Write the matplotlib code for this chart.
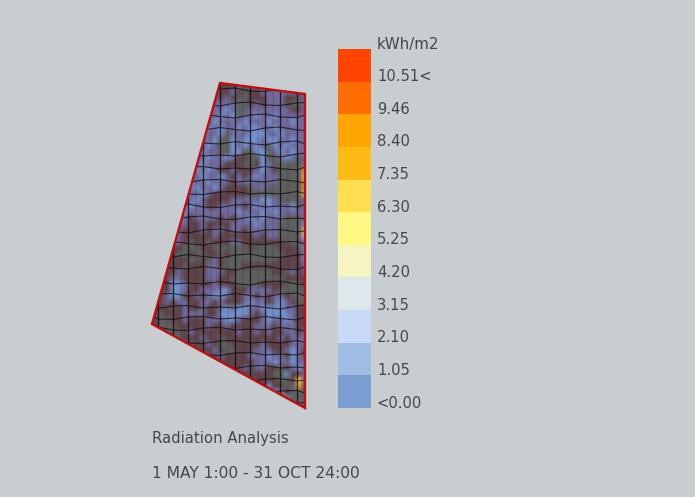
import numpy as np
import matplotlib
matplotlib.use("Agg")
import matplotlib.pyplot as plt
from matplotlib.colors import ListedColormap, BoundaryNorm
from matplotlib.patches import Polygon

# radiation map, one string per row, 6px cells
# 0 shade grey, 1 brown, 2 purple, 3 blue, 4 yellow, 5 orange, 6 pale
radiation_rows = [
    "22222222222111212222222222",
    "22222222222112101122222212",
    "22222222222121001112221102",
    "22222222222222001212221002",
    "22222222222232002222222112",
    "22222222222323022322322222",
    "22222222223222232223222322",
    "22222222232322323322322222",
    "22222222322302223332232222",
    "22222222223003233323322322",
    "22222222232003232320323222",
    "22222222322003300330232322",
    "22222222232232110030023202",
    "22222222322211100132000002",
    "22222223232112111232100005",
    "22222222322321212322200004",
    "22222232232221222222200005",
    "22222223223211110220000005",
    "22222322321111110000000004",
    "22222223211112222233200002",
    "22223232211222212323222302",
    "22232322222222322232322222",
    "22223212222121223232220002",
    "22232211211112222322200003",
    "22322111212212212222200004",
    "22222111112111111212200006",
    "22322101101112211111110002",
    "22211000110000001000011103",
    "22110010011010000000001113",
    "11111100102100000000011113",
    "11111011122100011111111112",
    "11112111122211000000110212",
    "11122111122110000000001111",
    "11133211112111000011110001",
    "11133211222331112222100000",
    "11233112123321122121221000",
    "11212211221211123221232100",
    "11111211211232332233332211",
    "10111222211333332123333211",
    "10011211122233211123223211",
    "10001111121121111222122211",
    "00000121111111211212112212",
    "00000111211011111111121222",
    "00000001121001111121111222",
    "00000000112100111222112321",
    "00000000001211112223221321",
    "00000000000111111222322322",
    "00000000000001121221101232",
    "00000000000000111111003112",
    "00000000000000011111100142",
    "00000000000000000113110051",
    "00000000000000000011321000",
    "00000000000000000000153000",
    "00000000000000000000000000",
    "00000000000000000000000000",
]

map_colors = ["#5e605f", "#5f4349", "#6f6a9b", "#7390cb", "#f2c94a", "#f39a2a", "#c9d3e8"]

outline_x = [220, 305, 305, 152]
outline_y = [83, 94, 408, 324]

# mesh lines
mesh_columns = [158, 173, 188, 203, 220, 235, 250, 265, 280, 297]
mesh_rows = [90, 104, 116, 129, 143, 155, 168, 181, 193, 206, 218, 231, 243, 256, 268, 283,
             295, 307, 318, 329, 342, 354, 367, 380, 392, 404]
wave_x = [152, 158, 173, 188, 203, 220, 235, 250, 265, 280, 297, 305]
wave_offset = [0, 1, -1.5, 0.5, 2, -1, -2, 1, 1.5, -1, -1.5, 1]

legend_labels = ["<0.00", "1.05", "2.10", "3.15", "4.20", "5.25", "6.30", "7.35", "8.40", "9.46", "10.51<"]
legend_colors = ["#7a9dd2", "#a0bde3", "#c8daf8", "#dde8ec", "#f4f5c0", "#fff882",
                 "#ffdf50", "#fdbb14", "#ffa500", "#ff6d00", "#ff4400"]

text_color = "#45484b"
bg = "#c8cdd0"

fig = plt.figure(figsize=(6.95, 4.97), dpi=100, facecolor=bg)
ax = fig.add_axes([0, 0, 1, 1])

grid = np.array([[int(c) for c in row] for row in radiation_rows])
cmap = ListedColormap(map_colors)
norm = BoundaryNorm(np.arange(len(map_colors) + 1) - 0.5, cmap.N)
img = ax.imshow(grid, cmap=cmap, norm=norm, extent=[152, 308, 413, 83], aspect="auto",
                interpolation="bilinear", interpolation_stage="rgba", zorder=1)
ax.set_xlim(0, 695)
ax.set_ylim(497, 0)
ax.axis("off")
clip = Polygon(np.column_stack([outline_x, outline_y]), closed=True, transform=ax.transData)
img.set_clip_path(clip)

# faint stripes between the mesh columns
for x in mesh_columns:
    line, = ax.plot([x + 7.5, x + 7.5], [80, 410], color="#222222", lw=1.5, alpha=0.12, zorder=2)
    line.set_clip_path(clip)
for x in mesh_columns:
    line, = ax.plot([x, x], [80, 410], color="#0c0c0c", lw=0.9, alpha=0.85, zorder=2)
    line.set_clip_path(clip)
for i, y in enumerate(mesh_rows):
    line, = ax.plot(wave_x, np.roll(wave_offset, i) + y, color="#0c0c0c", lw=0.8, alpha=0.75, zorder=2)
    line.set_clip_path(clip)

ax.add_patch(Polygon(np.column_stack([outline_x, outline_y]), closed=True, fill=False,
                     edgecolor="#c00d12", lw=1.7, zorder=3))

# legend
cell_h = (408 - 49) / len(legend_colors)
positions = 408 - cell_h * np.arange(len(legend_colors))
ax.bar(np.full(len(legend_colors), 354), -cell_h, width=33, bottom=positions,
       color=legend_colors, linewidth=0, zorder=2)
for pos, label in zip(positions, legend_labels):
    ax.text(377, pos - 5, label, fontsize=10.6, color=text_color, va="center", ha="left")
ax.text(377, 44, "kWh/m2", fontsize=10.8, color=text_color, va="center", ha="left")

ax.text(152, 438, "Radiation Analysis", fontsize=10.7, color=text_color, va="center", ha="left")
ax.text(152, 473, "1 MAY 1:00 - 31 OCT 24:00", fontsize=11.2, color=text_color, va="center", ha="left")

fig.savefig("out.png", dpi=100, facecolor=bg)
